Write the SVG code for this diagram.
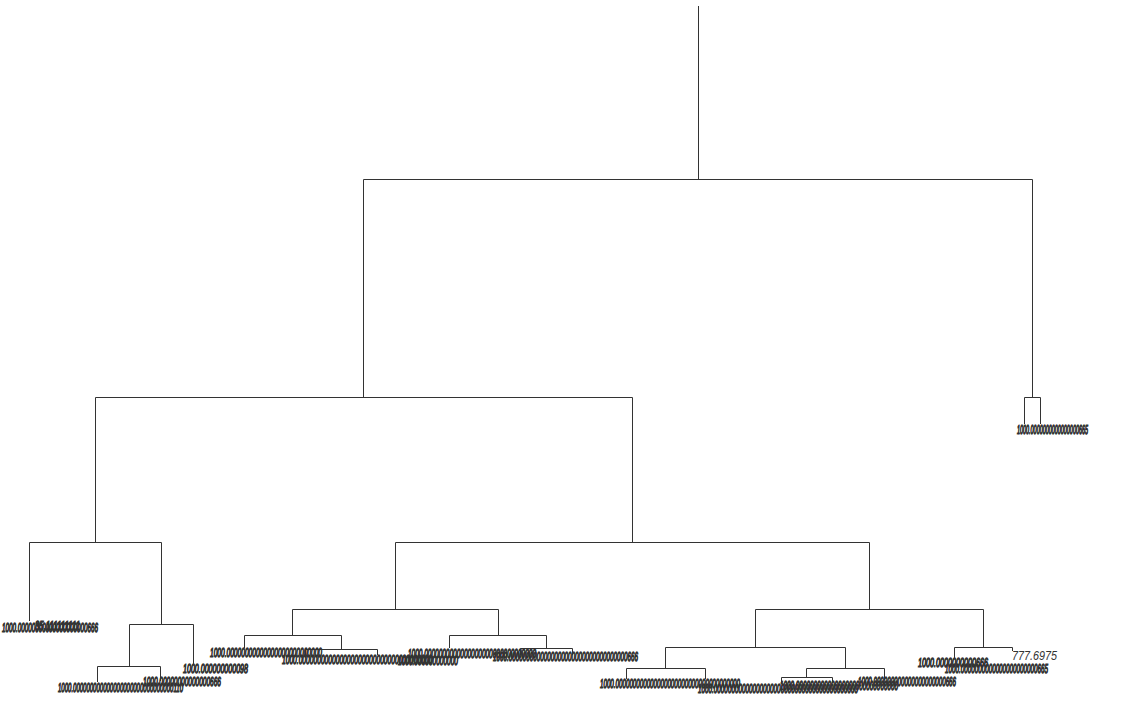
<svg xmlns="http://www.w3.org/2000/svg" width="1134" height="704" viewBox="0 0 1134 704">
<style>
.e{fill:none;stroke:#333;stroke-width:1}
.l{font-family:"Liberation Sans",Arial,sans-serif;font-style:italic;font-size:13px;fill:#333;stroke:#333;stroke-width:1.2;text-rendering:geometricPrecision}
.s{font-family:"Liberation Sans",Arial,sans-serif;font-style:italic;font-size:12px;fill:#333}
</style>
<rect width="1134" height="704" fill="#fff"/>
<g id="connectors">
<path class="e" d="M698.5 6V179.5M363.5 179.5H1032.5M363.5 179.5V397.5M1032.5 179.5V397.5"/>
<path class="e" d="M1024.5 397.5H1040.5M1024.5 397.5V424M1040.5 397.5V424"/>
<path class="e" d="M95.5 397.5H632.5M95.5 397.5V542.5M632.5 397.5V542.5"/>
<path class="e" d="M29.5 542.5H161.5M29.5 542.5V621M161.5 542.5V624.5M129.5 624.5H193.5M129.5 624.5V666.5M193.5 624.5V665M97.5 666.5H160.5M97.5 666.5V682M160.5 666.5V681"/>
<path class="e" d="M395.5 542.5H869.5M395.5 542.5V609.5M869.5 542.5V609.5"/>
<path class="e" d="M292.5 609.5H498.5M292.5 609.5V635.5M498.5 609.5V635.5"/>
<path class="e" d="M244.5 635.5H341.5M244.5 635.5V648M341.5 635.5V649.5M305.5 649.5H377.5M305.5 649.5V655M377.5 649.5V655"/>
<path class="e" d="M449.5 635.5H546.5M449.5 635.5V648M546.5 635.5V648.5M520.5 648.5H572.5M520.5 648.5V655M572.5 648.5V655"/>
<path class="e" d="M755.5 609.5H983.5M755.5 609.5V647.5M983.5 609.5V647.5"/>
<path class="e" d="M665.5 647.5H845.5M665.5 647.5V668.5M845.5 647.5V668.5M626.5 668.5H705.5M626.5 668.5V679M705.5 668.5V679M806.5 668.5H884.5M806.5 668.5V677.5M884.5 668.5V680M781.5 677.5H832.5M781.5 677.5V683M832.5 677.5V683"/>
<path class="e" d="M954.5 647.5H1012.5M954.5 647.5V658M1012.5 647.5V651"/>
</g>
<g id="leaves-a">
<text class="l" x="2" y="632" textLength="96" lengthAdjust="spacingAndGlyphs">1000.00000000000000000000666</text>
<text class="l" x="35" y="630" textLength="45" lengthAdjust="spacingAndGlyphs">35.111111111</text>
</g>
<g id="leaves-b">
<text class="l" x="58" y="692" textLength="125" lengthAdjust="spacingAndGlyphs">1000.000000000000000000000000000000110</text>
<text class="l" x="143" y="686" textLength="78" lengthAdjust="spacingAndGlyphs">1000.00000000000000666</text>
<text class="l" x="183" y="673" textLength="65" lengthAdjust="spacingAndGlyphs">1000.000000000098</text>
</g>
<g id="leaves-c">
<text class="l" x="210" y="657" textLength="112" lengthAdjust="spacingAndGlyphs">1000.00000000000000000000000000</text>
<text class="l" x="282" y="664" textLength="150" lengthAdjust="spacingAndGlyphs">1000.000000000000000000000000000000000000</text>
</g>
<g id="leaves-d">
<text class="l" x="408" y="658" textLength="128" lengthAdjust="spacingAndGlyphs">1000.0000000000000000000000000000000</text>
<text class="l" x="398" y="665" textLength="60" lengthAdjust="spacingAndGlyphs">1000.000000000000</text>
<text class="l" x="493" y="661" textLength="145" lengthAdjust="spacingAndGlyphs">1000.0000000000000000000000000000000000666</text>
</g>
<g id="leaves-e">
<text class="l" x="600" y="688" textLength="140" lengthAdjust="spacingAndGlyphs">1000.000000000000000000000000000000000000</text>
<text class="l" x="698" y="693" textLength="160" lengthAdjust="spacingAndGlyphs">1000.00000000000000000000000000000000000000000</text>
<text class="l" x="780" y="690" textLength="118" lengthAdjust="spacingAndGlyphs">1000.00000000000000000000000000000</text>
<text class="l" x="858" y="686" textLength="98" lengthAdjust="spacingAndGlyphs">1000.000000000000000000000666</text>
</g>
<g id="leaves-f">
<text class="l" x="918" y="667" textLength="70" lengthAdjust="spacingAndGlyphs">1000.0000000000666</text>
<text class="l" x="945" y="673" textLength="103" lengthAdjust="spacingAndGlyphs">1000.0000000000000000000000665</text>
<text class="s" x="1012" y="660" textLength="45" lengthAdjust="spacingAndGlyphs">777.6975</text>
</g>
<g id="leaves-g">
<text class="l" x="1017" y="434" textLength="71" lengthAdjust="spacingAndGlyphs">1000.0000000000000000665</text>
</g>
</svg>
